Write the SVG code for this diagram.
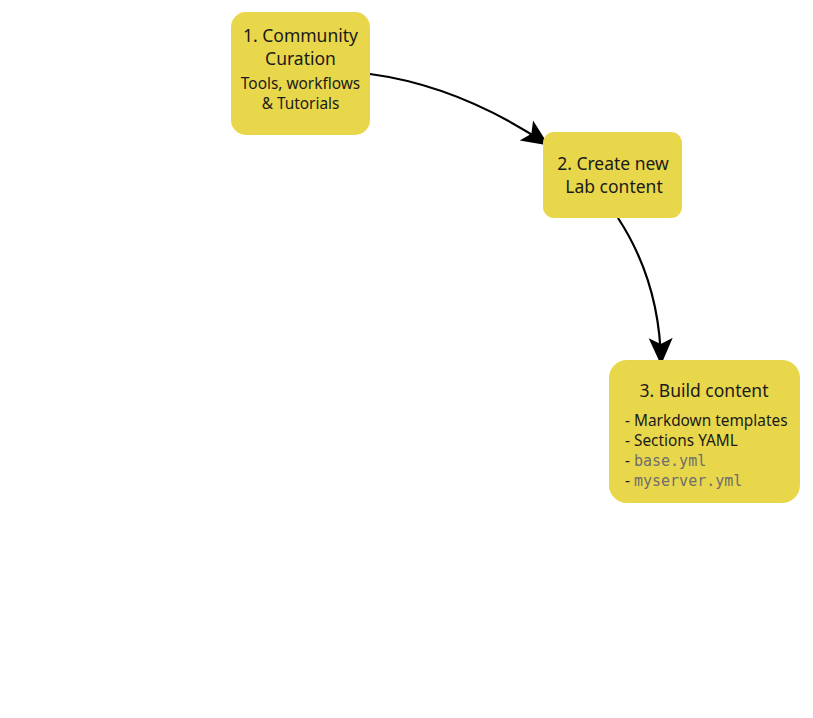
<svg xmlns="http://www.w3.org/2000/svg" width="813" height="718" viewBox="0 0 813 718">
<style>
.box{fill:#e9d74b;}
.t{font-family:"Noto Sans","DejaVu Sans",sans-serif;fill:#1a1a1a;}
.h{font-size:17.5px;}
.s{font-size:15.4px;}
.m{font-family:"DejaVu Sans Mono","Liberation Mono",monospace;font-size:15px;fill:#6e6e6e;}
.e{fill:none;stroke:#000;stroke-width:2.2;}
</style>
<defs>
<marker id="arr" markerUnits="userSpaceOnUse" markerWidth="28" markerHeight="26" refX="26" refY="13" orient="auto" viewBox="0 0 28 26">
<path d="M0,1 L27,13 L0,25 L6,13 Z" fill="#000"/>
</marker>
</defs>
<rect width="813" height="718" fill="#fff"/>
<g id="edges">
<path class="e" d="M370,74 Q460,86 548,145" marker-end="url(#arr)"/>
<path class="e" d="M618,218 Q660,282 661,364" marker-end="url(#arr)"/>
</g>
<g id="node1">
<rect class="box" x="231" y="12" width="139" height="123" rx="15"/>
<text class="t h" x="300.5" y="42" text-anchor="middle">1. Community</text>
<text class="t h" x="300.5" y="65" text-anchor="middle">Curation</text>
<text class="t s" x="300.5" y="89" text-anchor="middle">Tools, workflows</text>
<text class="t s" x="300.5" y="109" text-anchor="middle">&amp; Tutorials</text>
</g>
<g id="node2">
<rect class="box" x="543" y="132" width="139" height="86" rx="11"/>
<text class="t h" x="613" y="170" text-anchor="middle">2. Create new</text>
<text class="t h" x="614" y="193" text-anchor="middle">Lab content</text>
</g>
<g id="node3">
<rect class="box" x="609" y="360" width="191" height="143" rx="18"/>
<text class="t h" x="704" y="397" text-anchor="middle">3. Build content</text>
<text class="t s" x="625" y="426">- Markdown templates</text>
<text class="t s" x="625" y="446">- Sections YAML</text>
<text class="t s" x="625" y="466">- <tspan class="m">base.yml</tspan></text>
<text class="t s" x="625" y="486">- <tspan class="m">myserver.yml</tspan></text>
</g>
</svg>
